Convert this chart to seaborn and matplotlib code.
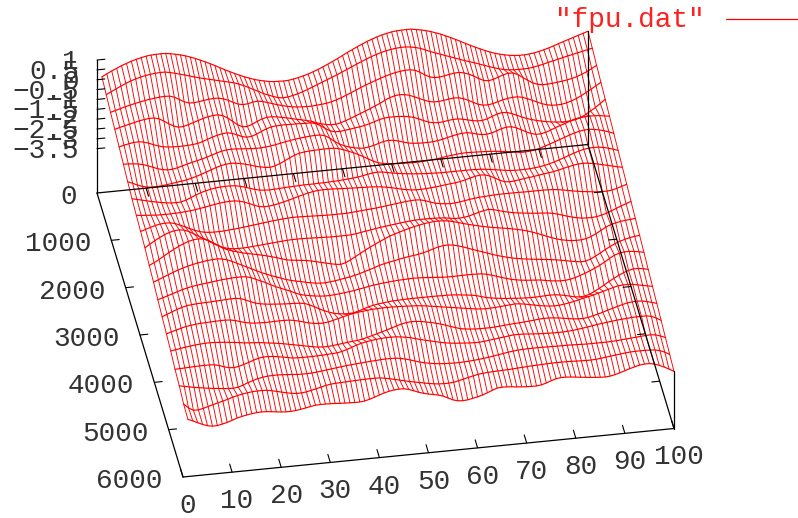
import numpy as np
import pandas as pd
import matplotlib
matplotlib.use('Agg')
import matplotlib.pyplot as plt
import seaborn as sns

# chain position along the x axis, time along the y axis
x_sites = list(range(1, 101))
t_steps = [0, 300, 600, 900, 1200, 1500, 1800, 2100, 2400, 2700, 3000,
           3300, 3600, 3900, 4200, 4500, 4800, 5100, 5400, 5700, 6000]
# each curve sits a bit lower than the last one
row_drop = [0, -0.14, -0.29, -0.43, -0.57, -0.71, -0.86, -1.0, -1.14, -1.28, -1.43,
            -1.57, -1.71, -1.85, -2.0, -2.14, -2.28, -2.42, -2.57, -2.71, -2.85]

# values, one list per time step
row_00 = [.12,.25,.37,.48,.59,.68,.77,.84,.90,.95, .98,.99,1,.99,.95,.90,.84,.77,.68,.59,
          .48,.37,.25,.13,0,-.13,-.25,-.37,-.48,-.59, -.68,-.77,-.84,-.90,-.95,-.98,-.99,-1,-.99,-.95,
          -.90,-.84,-.77,-.68,-.59,-.48,-.37,-.25,-.13,0, .13,.25,.37,.48,.59,.68,.77,.84,.90,.95,
          .98,.99,1,.99,.95,.90,.84,.77,.68,.59, .48,.37,.25,.13,0,-.12,-.24,-.35,-.46,-.56,
          -.65,-.72,-.78,-.83,-.86,-.88,-.88,-.86,-.83,-.78, -.72,-.65,-.57,-.48,-.40,-.32,-.24,-.16,-.08,0]
row_01 = [.08,.2,.32,.44,.55,.65,.73,.8,.85,.89, .92,.93,.93,.88,.82,.75,.68,.61,.53,.46,
          .4,.34,.28,.22,.16,.1,.04,-.05,-.15,-.27, -.4,-.52,-.65,-.75,-.85,-.93,-.97,-.95,-.9,-.84,
          -.76,-.67,-.57,-.47,-.37,-.27,-.17,-.07,.04,.15, .26,.37,.48,.58,.68,.76,.84,.9,.95,.98,
          1,1,.97,.92,.85,.75,.64,.55,.46,.37, .28,.19,.1,.01,-.07,-.15,-.24,-.33,-.42,-.5,
          -.58,-.64,-.68,-.7,-.71,-.71,-.7,-.67,-.62,-.57, -.5,-.45,-.39,-.33,-.27,-.22,-.16,-.11,-.05,0]
row_02 = [.05,.12,.19,.26,.32,.38,.43,.48,.52,.55, .58,.59,.58,.5,.36,.22,.13,.12,.15,.19,
          .22,.24,.23,.17,.07,-.06,-.17,-.22,-.2,-.14, -.12,-.16,-.24,-.32,-.4,-.47,-.53,-.58,-.61,-.63,
          -.64,-.64,-.62,-.6,-.57,-.52,-.45,-.36,-.26,-.16, -.05,.06,.16,.25,.34,.43,.51,.58,.64,.68,
          .71,.71,.66,.54,.38,.25,.19,.19,.23,.28, .32,.33,.28,.19,.07,-.08,-.2,-.24,-.19,-.1,
          -.01,.04,.03,-.08,-.25,-.42,-.57,-.67,-.71,-.71, -.69,-.66,-.63,-.59,-.54,-.47,-.38,-.27,-.14,0]
row_03 = [.05,.12,.18,.24,.3,.36,.4,.43,.43,.36, .22,.06,-.08,-.16,-.15,-.08,0,.08,.16,.22,
          .26,.27,.2,.06,-.14,-.33,-.46,-.47,-.38,-.26, -.16,-.1,-.1,-.13,-.18,-.23,-.29,-.35,-.4,-.46,
          -.52,-.62,-.7,-.76,-.8,-.8,-.75,-.67,-.58,-.48, -.38,-.28,-.18,-.07,.04,.17,.28,.35,.38,.36,
          .3,.2,.09,-.02,-.11,-.16,-.16,-.13,-.09,-.06, -.07,-.14,-.25,-.38,-.5,-.57,-.58,-.54,-.47,-.4,
          -.35,-.32,-.32,-.37,-.46,-.57,-.68,-.79,-.87,-.92, -.93,-.92,-.87,-.8,-.7,-.58,-.44,-.3,-.15,0]
row_04 = [.02,.08,.13,.17,.18,.14,.06,-.04,-.13,-.2, -.23,-.25,-.26,-.26,-.25,-.23,-.2,-.13,-.04,.05,
          .12,.17,.19,.14,.04,-.07,-.13,-.11,-.02,.09, .2,.27,.3,.31,.31,.3,.3,.29,.28,.28,
          .22,.09,-.08,-.23,-.3,-.3,-.27,-.24,-.2,-.17, -.12,-.06,.02,.1,.15,.17,.17,.16,.14,.1,
          .04,-.06,-.17,-.27,-.33,-.35,-.33,-.29,-.26,-.26, -.3,-.36,-.42,-.46,-.46,-.4,-.3,-.21,-.16,-.18,
          -.26,-.37,-.48,-.58,-.66,-.73,-.79,-.84,-.88,-.91, -.93,-.94,-.92,-.88,-.8,-.68,-.53,-.37,-.19,0]
row_05 = [0,-.01,-.03,-.06,-.12,-.2,-.3,-.4,-.47,-.51, -.5,-.45,-.38,-.31,-.25,-.19,-.13,-.06,.02,.1,
          .17,.21,.22,.21,.19,.17,.15,.14,.14,.16, .19,.23,.28,.33,.37,.41,.44,.47,.49,.5,
          .5,.44,.3,.1,-.06,-.17,-.26,-.32,-.37,-.39, -.35,-.3,-.22,-.15,-.12,-.14,-.2,-.28,-.35,-.39,
          -.41,-.42,-.42,-.41,-.38,-.33,-.27,-.21,-.16,-.13, -.12,-.17,-.24,-.29,-.3,-.26,-.18,-.09,-.04,-.04,
          -.12,-.24,-.37,-.48,-.55,-.55,-.5,-.41,-.31,-.22, -.14,-.05,.03,.08,.1,.11,.1,.08,.04,0]
row_06 = [-.02,-.12,-.24,-.33,-.39,-.41,-.41,-.39,-.36,-.33, -.29,-.26,-.22,-.16,-.09,-.01,.08,.17,.26,.33,
          .38,.4,.38,.34,.28,.21,.13,.07,.02,0, .05,.14,.26,.38,.5,.57,.61,.63,.64,.65,
          .66,.66,.65,.6,.52,.42,.32,.2,.07,-.07, -.2,-.31,-.37,-.41,-.43,-.45,-.46,-.47,-.48,-.48,
          -.47,-.45,-.43,-.4,-.37,-.33,-.3,-.27,-.25,-.24, -.25,-.26,-.27,-.28,-.3,-.32,-.35,-.38,-.42,-.46,
          -.5,-.5,-.48,-.44,-.38,-.3,-.22,-.13,-.04,.05, .14,.22,.28,.32,.33,.3,.25,.18,.1,0]
row_07 = [-.02,-.08,-.14,-.2,-.26,-.31,-.36,-.4,-.43,-.44, -.43,-.36,-.26,-.15,-.06,.01,.07,.11,.13,.14,
          .14,.12,.07,0,-.08,-.16,-.22,-.25,-.26,-.25, -.24,-.22,-.21,-.2,-.19,-.18,-.18,-.18,-.17,-.17,
          -.16,-.15,-.14,-.12,-.1,-.08,-.05,-.01,.04,.08, .1,.08,.03,-.02,-.06,-.1,-.13,-.16,-.18,-.2,
          -.22,-.23,-.24,-.25,-.25,-.25,-.25,-.25,-.25,-.25, -.26,-.27,-.3,-.33,-.37,-.41,-.45,-.48,-.5,-.5,
          -.5,-.49,-.47,-.44,-.4,-.34,-.27,-.19,-.1,-.01, .08,.16,.22,.26,.27,.26,.22,.16,.08,0]
row_08 = [0,-.03,-.05,-.07,-.09,-.1,-.1,-.1,-.09,-.08, -.06,-.04,-.01,.03,.07,.12,.16,.2,.23,.24,
          .24,.2,.13,.03,-.08,-.17,-.21,-.2,-.17,-.12, -.06,0,.07,.14,.21,.27,.32,.35,.36,.36,
          .35,.34,.32,.31,.3,.29,.28,.27,.26,.24, .21,.17,.12,.06,0,-.05,-.09,-.11,-.11,-.1,
          -.08,-.06,-.03,0,.03,.05,.09,.15,.22,.28, .32,.3,.22,.1,-.04,-.14,-.17,-.15,-.12,-.08,
          -.05,-.02,.02,.06,.09,.13,.18,.24,.3,.35, .39,.4,.38,.34,.29,.23,.17,.11,.05,0]
row_09 = [.04,.12,.2,.27,.32,.34,.33,.27,.17,.06, -.06,-.17,-.26,-.32,-.35,-.36,-.36,-.35,-.33,-.31,
          -.29,-.26,-.23,-.2,-.17,-.14,-.11,-.08,-.06,-.04, -.02,-.01,-.01,-.02,-.03,-.04,-.05,-.06,-.07,-.07,
          -.07,-.07,-.07,-.05,-.03,-.01,.01,.03,.05,.08, .11,.14,.17,.2,.23,.25,.26,.24,.17,.08,
          0,-.05,-.08,-.1,-.09,-.06,-.02,.02,.05,.08, .09,.11,.12,.13,.13,.13,.13,.13,.12,.12,
          .12,.12,.12,.11,.1,.07,.03,-.02,-.07,-.11, -.15,-.18,-.21,-.24,-.25,-.25,-.22,-.16,-.08,0]
row_10 = [.08,.24,.39,.53,.65,.74,.8,.82,.78,.68, .54,.39,.25,.1,-.05,-.18,-.3,-.37,-.41,-.42,
          -.42,-.41,-.39,-.37,-.35,-.33,-.31,-.29,-.27,-.25, -.24,-.24,-.24,-.25,-.26,-.27,-.28,-.29,-.3,-.3,
          -.3,-.3,-.29,-.26,-.22,-.18,-.14,-.1,-.06,-.03, 0,.03,.06,.09,.11,.13,.14,.14,.14,.13,
          .12,.1,.06,.02,.01,.03,.07,.14,.21,.27, .31,.27,.2,.13,.07,.02,-.02,-.05,-.08,-.11,
          -.13,-.15,-.17,-.21,-.27,-.35,-.43,-.5,-.56,-.6, -.62,-.62,-.6,-.55,-.48,-.38,-.28,-.18,-.09,0]
row_11 = [.05,.16,.3,.45,.6,.74,.87,.98,1.07,1.13, 1.15,1.12,1.03,.88,.72,.56,.45,.36,.29,.22,
          .16,.11,.06,0,-.06,-.13,-.2,-.28,-.36,-.4, -.43,-.46,-.49,-.54,-.6,-.66,-.72,-.78,-.83,-.86,
          -.8,-.68,-.54,-.4,-.26,-.13,-.01,.11,.22,.33, .41,.49,.56,.63,.69,.74,.79,.82,.85,.85,
          .84,.8,.74,.67,.6,.53,.47,.41,.35,.3, .25,.21,.17,.13,.08,.03,-.03,-.1,-.18,-.27,
          -.37,-.47,-.56,-.65,-.72,-.77,-.81,-.82,-.82,-.78, -.7,-.58,-.44,-.3,-.2,-.13,-.08,-.05,-.03,0]
row_12 = [.06,.16,.26,.36,.46,.55,.63,.7,.76,.81, .85,.89,.91,.92,.89,.82,.72,.6,.48,.36,
          .24,.12,0,-.1,-.2,-.29,-.38,-.47,-.54,-.6, -.65,-.71,-.76,-.8,-.83,-.83,-.81,-.78,-.74,-.7,
          -.66,-.6,-.54,-.46,-.39,-.31,-.22,-.16,-.11,-.06, -.01,.04,.08,.11,.15,.2,.27,.35,.42,.46,
          .47,.44,.38,.3,.21,.12,.03,-.05,-.14,-.23, -.31,-.38,-.45,-.51,-.56,-.6,-.64,-.67,-.7,-.73,
          -.76,-.79,-.83,-.87,-.92,-.97,-1.01,-1.05,-1.04,-.96, -.84,-.7,-.55,-.42,-.3,-.2,-.13,-.07,-.03,0]
row_13 = [.03,.1,.18,.26,.34,.42,.48,.53,.57,.6, .63,.66,.69,.72,.74,.76,.77,.77,.75,.68,
          .57,.46,.35,.22,.1,0,-.1,-.2,-.32,-.42, -.48,-.53,-.57,-.6,-.62,-.62,-.6,-.58,-.55,-.52,
          -.49,-.44,-.4,-.35,-.31,-.28,-.25,-.23,-.21,-.19, -.18,-.17,-.16,-.17,-.18,-.2,-.22,-.24,-.26,-.27,
          -.27,-.27,-.26,-.26,-.26,-.27,-.28,-.33,-.4,-.48, -.56,-.64,-.71,-.76,-.8,-.83,-.85,-.87,-.89,-.94,
          -.98,-1.01,-1.03,-1.03,-1,-.94,-.86,-.77,-.67,-.56, -.44,-.3,-.14,0,.08,.12,.12,.09,.05,0]
row_14 = [.04,.13,.23,.33,.41,.47,.5,.52,.53,.54, .55,.56,.57,.59,.6,.6,.56,.47,.36,.26,
          .2,.16,.13,.11,.09,.07,.06,.05,.03,0, -.1,-.22,-.35,-.47,-.57,-.65,-.7,-.73,-.74,-.72,
          -.66,-.58,-.5,-.44,-.4,-.37,-.34,-.32,-.31,-.3, -.29,-.29,-.29,-.29,-.29,-.29,-.29,-.3,-.3,-.31,
          -.33,-.36,-.39,-.42,-.47,-.54,-.61,-.66,-.7,-.73, -.76,-.78,-.8,-.82,-.83,-.84,-.84,-.83,-.82,-.81,
          -.82,-.85,-.9,-.96,-1.02,-1.05,-1.04,-.97,-.85,-.72, -.57,-.42,-.28,-.15,-.04,.05,.1,.1,.06,0]
row_15 = [.03,.1,.17,.24,.3,.34,.37,.39,.4,.41, .42,.43,.43,.41,.36,.28,.21,.16,.13,.12,
          .11,.11,.12,.12,.12,.11,.07,.01,-.06,-.13, -.18,-.21,-.21,-.18,-.12,-.06,.01,.07,.12,.16,
          .19,.22,.24,.25,.26,.26,.26,.25,.24,.23, .21,.2,.17,.14,.1,.06,.02,-.02,-.06,-.1,
          -.14,-.18,-.22,-.26,-.28,-.3,-.29,-.28,-.26,-.24, -.22,-.2,-.22,-.26,-.31,-.36,-.41,-.45,-.48,-.5,
          -.49,-.46,-.42,-.37,-.31,-.25,-.2,-.14,-.07,0, .07,.14,.2,.22,.22,.2,.15,.1,.05,0]
row_16 = [.02,.06,.1,.14,.17,.2,.22,.24,.24,.23, .21,.19,.16,.13,.1,.06,.04,.02,0,-.03,
          -.07,-.1,-.14,-.18,-.23,-.28,-.33,-.38,-.43,-.48, -.52,-.54,-.54,-.52,-.49,-.46,-.43,-.4,-.38,-.34,
          -.28,-.21,-.14,-.07,0,.08,.16,.23,.28,.3, .29,.26,.21,.16,.1,.03,-.05,-.14,-.22,-.3,
          -.34,-.37,-.39,-.4,-.4,-.4,-.39,-.37,-.35,-.33, -.31,-.3,-.28,-.26,-.24,-.21,-.2,-.2,-.22,-.25,
          -.29,-.33,-.37,-.39,-.4,-.37,-.31,-.25,-.18,-.1, -.03,.04,.11,.17,.2,.21,.19,.14,.07,0]
row_17 = [-.05,-.04,-.03,-.02,-.01,0,0,0,-.02,-.08, -.17,-.24,-.26,-.22,-.15,-.07,.02,.09,.13,.13,
          .11,.07,.03,-.02,-.07,-.08,-.09,-.09,-.09,-.08, -.07,-.06,-.04,-.03,.02,.09,.18,.27,.34,.39,
          .43,.46,.48,.5,.5,.49,.46,.42,.37,.3, .23,.17,.11,.05,-.01,-.06,-.1,-.13,-.15,-.17,
          -.19,-.2,-.2,-.18,-.15,-.12,-.09,-.06,-.03,0, 0,-.01,-.03,-.05,-.07,-.08,-.09,-.1,-.1,-.1,
          -.09,-.07,-.04,-.01,.03,.07,.11,.14,.17,.2, .23,.25,.27,.29,.3,.3,.3,.25,.14,0]
row_18 = [-.02,-.07,-.12,-.17,-.21,-.25,-.29,-.32,-.35,-.38, -.4,-.41,-.38,-.3,-.2,-.12,-.05,0,.03,.04,
          .04,.03,.01,-.01,-.03,-.04,-.04,-.03,-.01,.02, .05,.08,.11,.14,.17,.19,.21,.23,.25,.27,
          .28,.3,.31,.31,.3,.27,.21,.14,.06,-.02, -.08,-.13,-.17,-.2,-.22,-.23,-.24,-.24,-.23,-.22,
          -.2,-.18,-.15,-.12,-.08,-.04,0,.04,.07,.1, .11,.12,.12,.12,.12,.11,.11,.1,.1,.1,
          .09,.08,.07,.06,.06,.06,.06,.06,.07,.08, .1,.12,.14,.16,.18,.2,.21,.18,.1,0]
row_19 = [-.08,-.3,-.45,-.45,-.4,-.33,-.26,-.19,-.13,-.06, .02,.08,.13,.17,.2,.21,.21,.2,.15,.09,
          .03,-.03,-.08,-.11,-.11,-.08,-.03,.03,.09,.15, .19,.21,.22,.23,.24,.25,.26,.27,.27,.27,
          .26,.22,.17,.11,.05,-.01,-.07,-.12,-.17,-.22, -.27,-.31,-.34,-.35,-.35,-.33,-.28,-.22,-.16,-.1,
          -.05,-.02,0,.01,.02,.03,.04,.05,.07,.08, .1,.11,.12,.13,.14,.15,.15,.15,.15,.14,
          .13,.12,.11,.11,.12,.15,.18,.21,.24,.27, .3,.32,.33,.33,.33,.32,.3,.24,.14,0]
row_20 = [0,-.1,-.22,-.33,-.42,-.47,-.46,-.41,-.35,-.27, -.18,-.12,-.07,-.03,0,.01,0,-.03,-.06,-.09,
          -.11,-.11,-.09,-.05,-.01,.04,.08,.09,.09,.08, .07,.05,.04,.03,.02,.02,.05,.11,.19,.28,
          .36,.42,.46,.48,.47,.41,.32,.22,.14,.08, .03,-.02,-.1,-.22,-.34,-.41,-.43,-.41,-.36,-.31,
          -.24,-.15,-.05,.04,.06,.05,.03,0,-.02,-.04, -.05,-.05,-.02,.05,.14,.22,.25,.25,.23,.2,
          .17,.14,.11,.09,.07,.06,.08,.13,.2,.28, .36,.43,.49,.52,.52,.47,.38,.27,.14,0]
all_rows = [row_00, row_01, row_02, row_03, row_04, row_05, row_06, row_07, row_08, row_09, row_10,
            row_11, row_12, row_13, row_14, row_15, row_16, row_17, row_18, row_19, row_20]

x_ticks = [0, 10, 20, 30, 40, 50, 60, 70, 80, 90, 100]
t_ticks = [0, 1000, 2000, 3000, 4000, 5000, 6000]
z_ticks = [1, 0.5, 0, -0.5, -1, -1.5, -2, -2.5, -3, -3.5]
z_labels = ['1', '0.5', '0', '−0.5', '−1', '−1.5', '−2', '−2.5', '−3', '−3.5']
z_floor = -5.75


def project(x, t, z):
    # fixed gnuplot-like view, gives figure pixels
    sx = 97 + 4.91 * x + 86 * t / 6000
    sy = 193 - 0.485 * x + 284 * t / 6000 - (z - z_floor) * 19.7
    return sx, sy


def frame_line(ax, start, end, lw=0.9):
    xs, ys = project(*start)
    xe, ye = project(*end)
    ax.plot([xs, xe], [ys, ye], color='black', lw=lw, solid_capstyle='round', zorder=5)


records = []
for t, drop, row in zip(t_steps, row_drop, all_rows):
    for x, w in zip(x_sites, row):
        sx, sy = project(x, t, w + drop)
        records.append({'x': x, 't': t, 'sx': sx, 'sy': sy})
surface = pd.DataFrame(records)

sns.set_style('white')
plt.rcParams['font.family'] = ['Liberation Mono', 'DejaVu Sans']
fig, ax = plt.subplots(figsize=(7.98, 5.18), dpi=100)
fig.subplots_adjust(left=0, right=1, top=1, bottom=0)

# lines across the chain, then along time
sns.lineplot(data=surface, x='sx', y='sy', units='x', estimator=None, sort=False,
             color='#ff0000', lw=0.65, legend=False, ax=ax)
sns.lineplot(data=surface, x='sx', y='sy', units='t', estimator=None, sort=False,
             color='#ff0000', lw=0.85, legend=False, ax=ax)

# floor box and the two uprights
frame_line(ax, (0, 0, z_floor), (100, 0, z_floor))
frame_line(ax, (0, 0, z_floor), (0, 6000, z_floor))
frame_line(ax, (0, 6000, z_floor), (100, 6000, z_floor))
frame_line(ax, (100, 0, z_floor), (100, 6000, z_floor))
frame_line(ax, (0, 0, z_floor), (0, 0, 1))
frame_line(ax, (100, 0, z_floor), (100, 0, 0))
frame_line(ax, (100, 6000, z_floor), (100, 6000, 0 + row_drop[-1]))

for x in x_ticks:
    frame_line(ax, (x, 6000, z_floor), (x, 6000 - 170, z_floor), lw=0.8)
    if 0 < x < 100:
        frame_line(ax, (x, 0, z_floor), (x, 170, z_floor), lw=0.8)
    sx, sy = project(x, 6000, z_floor)
    ax.text(sx + 5, sy + 29, str(x), fontsize=20, ha='center', va='center', color='#333333')

for t in t_ticks:
    if 0 < t < 6000:
        frame_line(ax, (0, t, z_floor), (1.6, t, z_floor), lw=0.8)
        frame_line(ax, (100, t, z_floor), (98.4, t, z_floor), lw=0.8)
    sx, sy = project(0, t, z_floor)
    ax.text(sx - 20, sy + 4, str(t), fontsize=20, ha='right', va='center', color='#333333')

for z, label in zip(z_ticks, z_labels):
    frame_line(ax, (0, 0, z), (1.6, 0, z), lw=0.8)
    sx, sy = project(0, 0, z)
    ax.text(sx - 18, sy + 2, label, fontsize=20, ha='right', va='center', color='#333333')

# key in the top corner
ax.text(705, 20, '"fpu.dat"', fontsize=20, ha='right', va='center', color='#ff2020')
ax.plot([726, 798], [19, 19], color='#ff0000', lw=0.9, scalex=False, scaley=False)

ax.set_xlim(0, 798)
ax.set_ylim(518, 0)
ax.axis('off')
fig.savefig('out.png', dpi=100)
